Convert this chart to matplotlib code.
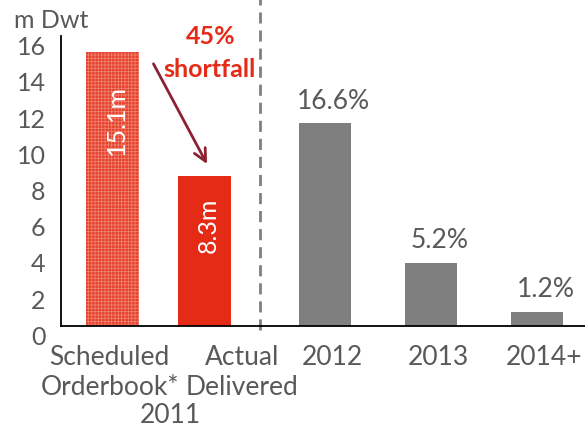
import matplotlib.pyplot as plt

plt.rcParams['font.family'] = ['Lato', 'DejaVu Sans']
plt.rcParams['hatch.linewidth'] = 0.6

# data
categories = ['Scheduled\nOrderbook*', 'Actual\nDelivered', '2012', '2013', '2014+']
group_label = '2011'
values = [15.1, 8.3, 11.2, 3.5, 0.8]
inside_labels = ['15.1m', '8.3m']
pct_labels = ['16.6%', '5.2%', '1.2%']
yticks = [0, 2, 4, 6, 8, 10, 12, 14, 16]

# layout
xpos = [0.0, 0.865, 2, 3, 4]
widths = [0.5, 0.5, 0.49, 0.49, 0.49]
label_x = [-0.03, 1.22, 2.07, 3.07, 4.07]
inside_off = [1.8, 1.2]
grey_txt = '#595959'
red = '#E52A16'

fig = plt.figure(figsize=(5.85, 4.33), dpi=100)
ax = fig.add_axes([61 / 585, 1 - 326 / 433, 524 / 585, 290 / 433])

# scheduled (hatched), actual (solid), forward years (grey)
ax.bar(xpos[0], values[0], width=widths[0], color='#E6402A',
       hatch='+++++', edgecolor='#F0806F', linewidth=0)
ax.bar(xpos[1], values[1], width=widths[1], color=red, linewidth=0)
ax.bar(xpos[2:], values[2:], width=widths[2:], color='#7F7F7F', linewidth=0)

# labels inside red bars
for x, v, t, off in zip(xpos[:2], values[:2], inside_labels, inside_off):
    ax.text(x + 0.03, v - off, t, rotation=90, ha='center', va='top',
            color='white', fontsize=18)

# percentage labels above grey bars
for x, v, t in zip(xpos[2:], values[2:], pct_labels):
    ax.text(x + 0.08, v + 1.2, t, ha='center', va='center', color=grey_txt,
            fontsize=19)

# shortfall annotation
ax.text(0.925, 16.0, '45%', ha='center', va='center', color=red,
        fontsize=18, fontweight='bold')
ax.text(0.915, 14.15, 'shortfall', ha='center', va='center', color=red,
        fontsize=18, fontweight='bold')
ax.annotate('', xy=(0.9, 8.8), xytext=(0.37, 14.6),
            arrowprops=dict(arrowstyle='->', color='#8B2234', lw=2,
                            mutation_scale=22))

# separator
ax.axvline(1.387, ymin=-0.015, ymax=1.13, color='#7F7F7F', lw=2,
           ls=(0, (4, 2.5)), clip_on=False)

ax.set_xlim(-0.49, 4.453)
ax.set_ylim(0, 16)
ax.set_yticks(yticks)
ax.set_yticklabels([str(v) for v in yticks], color=grey_txt, fontsize=18)
ax.set_xticks(xpos)
ax.set_xticklabels([])
ax.tick_params(length=0)
ax.tick_params(axis='y', pad=11)
for lbl in ax.get_yticklabels():
    lbl.set_verticalalignment('top')
ax.spines['top'].set_visible(False)
ax.spines['right'].set_visible(False)
ax.spines['left'].set_linewidth(1.3)
ax.spines['bottom'].set_linewidth(1.3)

# category labels
xt = ax.get_xaxis_transform()
for x, c in zip(label_x, categories):
    ax.text(x, -0.065, c, transform=xt, ha='center', va='top',
            color=grey_txt, fontsize=19, linespacing=1.25)
ax.text(0.538, -0.265, group_label, transform=xt, ha='center', va='top',
        color=grey_txt, fontsize=19)
fig.text(14 / 585, 1 - 21 / 433, 'm Dwt', ha='left', va='center',
         color=grey_txt, fontsize=18)

fig.savefig('out.png', dpi=100)
